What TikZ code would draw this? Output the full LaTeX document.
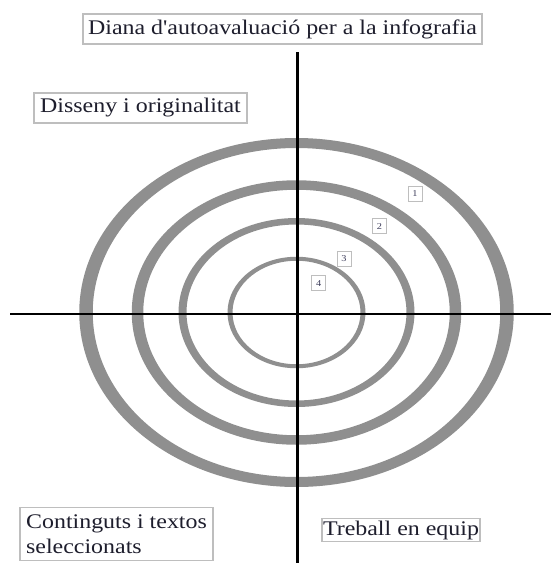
\documentclass[tikz,border=0pt]{standalone}
\usepackage{fontspec}
\setmainfont{Liberation Serif}[FakeStretch=1.15, Ligatures=TeXOff]
\definecolor{ringgray}{RGB}{143,143,143}
\definecolor{boxgray}{RGB}{190,190,190}
\definecolor{textc}{RGB}{30,30,45}
\definecolor{numc}{RGB}{60,60,90}
\tikzset{
  labelbox/.style={draw=boxgray, line width=1.1pt, fill=white, text=textc, inner sep=0pt,
    font=\fontsize{20.8}{25}\selectfont},
  numbox/.style={draw=boxgray, line width=1pt, fill=white, text=numc, inner sep=0pt,
    minimum width=14pt, minimum height=15pt, font=\fontsize{9}{10}\selectfont},
  axis/.style={draw=black, line width=2.3pt},
  ring/.style={fill=ringgray, even odd rule}
}
\begin{document}
\begin{tikzpicture}[x=1pt,y=-1pt]
\useasboundingbox (0,0) rectangle (551,563);
\coordinate (c) at (296.5,312.5);
% rings
\fill[ring] (c) ellipse [x radius=217.25pt, y radius=174.5pt] (c) ellipse [x radius=203.75pt, y radius=164.5pt];
\fill[ring] (c) ellipse [x radius=164.75pt, y radius=132.25pt] (c) ellipse [x radius=153.25pt, y radius=122.75pt];
\fill[ring] (c) ellipse [x radius=118pt, y radius=94.5pt] (c) ellipse [x radius=110pt, y radius=88pt];
\fill[ring] (c) ellipse [x radius=69pt, y radius=55.75pt] (c) ellipse [x radius=64pt, y radius=51.75pt];
% axes
\coordinate (left) at (10,314);
\coordinate (right) at (551,314);
\coordinate (top) at (297.5,52);
\coordinate (bottom) at (297.5,563);
\draw[axis] (left) -- (right);
\draw[axis] (top) -- (bottom);
% labels
\node[labelbox, minimum width=399pt, minimum height=30pt] (title) at (282.5,29) {Diana d'autoavaluació per a la infografia};
\node[labelbox, minimum width=213pt, minimum height=30pt] (disseny) at (140.5,108) {Disseny i originalitat};
\node[labelbox, minimum width=193pt, minimum height=53pt, align=left] (contingut) at (116.5,534) {Continguts i textos\\seleccionats};
\node[labelbox, minimum width=158pt, minimum height=23pt] (treball) at (401,530) {Treball en equip};
% numbers
\node[numbox] (n1) at (415,194) {1};
\node[numbox] (n2) at (379.5,226.3) {2};
\node[numbox] (n3) at (344,259) {3};
\node[numbox] (n4) at (318.7,283.3) {4};
\end{tikzpicture}
\end{document}
